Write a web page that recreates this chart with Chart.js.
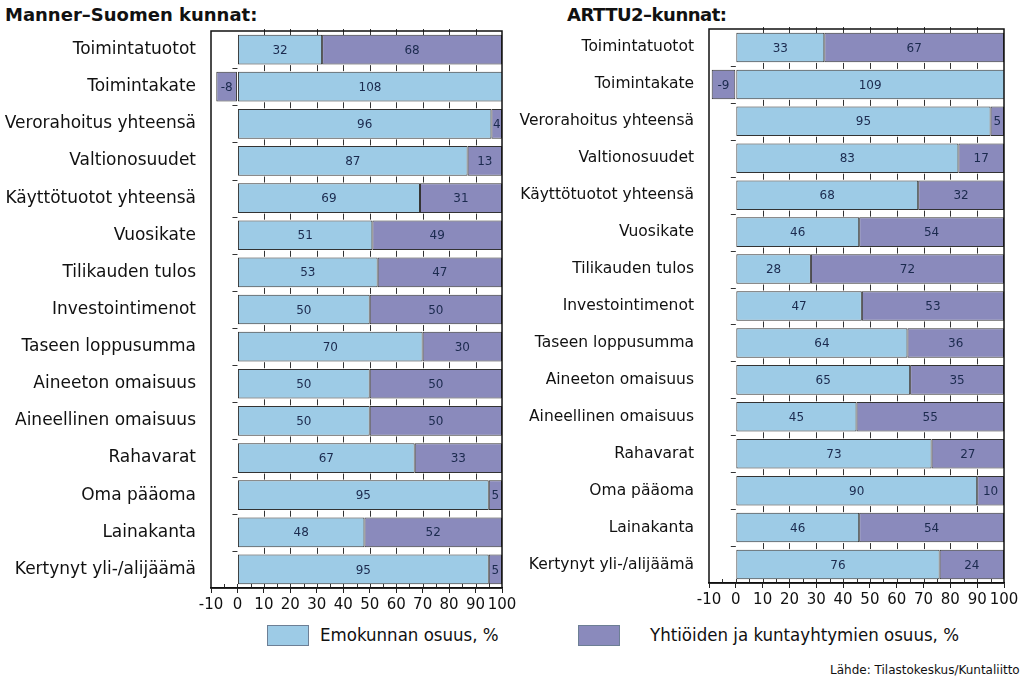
<!DOCTYPE html>
<html>
<head>
<meta charset="utf-8">
<script src="https://cdn.jsdelivr.net/npm/chart.js@4.4.0/dist/chart.umd.min.js"></script>
<style>
  body { margin: 0; width: 1024px; height: 687px; background: #fff; position: relative; overflow: hidden; font-family: "DejaVu Sans", Verdana, sans-serif; }
  .abs { position: absolute; }
  .title { font-weight: bold; font-size: 18px; color: #111; white-space: nowrap; }
  .lgbox { width: 40px; height: 19px; border: 1px solid #6d7f95; }
  .lgtext { font-family: "Liberation Sans Narrow", "DejaVu Sans Condensed", sans-serif; font-size: 18.5px; color: #111; white-space: nowrap; }
  .src { font-size: 12px; color: #111; white-space: nowrap; }
</style>
</head>
<body>
<div class="abs title" style="left:5px; top:4px;">Manner–Suomen kunnat:</div>
<div class="abs title" style="left:567px; top:4px; letter-spacing:-0.5px;">ARTTU2–kunnat:</div>

<div class="abs" style="left:0; top:0; width:520px; height:620px;"><canvas id="leftChart"></canvas></div>
<div class="abs" style="left:500px; top:0; width:524px; height:620px;"><canvas id="rightChart"></canvas></div>

<div class="abs lgbox" style="left:267px; top:625px; background:#9dcbe6;"></div>
<div class="abs lgtext" style="left:320px; top:624px;">Emokunnan osuus, %</div>
<div class="abs lgbox" style="left:578px; top:625px; background:#8a8abc;"></div>
<div class="abs lgtext" style="left:650px; top:624px;">Yhtiöiden ja kuntayhtymien osuus, %</div>
<div class="abs src" style="left:830px; top:663px;">Lähde: Tilastokeskus/Kuntaliitto</div>

<script>
// Data
const categories = [
    'Toimintatuotot', 'Toimintakate', 'Verorahoitus yhteensä', 'Valtionosuudet',
    'Käyttötuotot yhteensä', 'Vuosikate', 'Tilikauden tulos', 'Investointimenot',
    'Taseen loppusumma', 'Aineeton omaisuus', 'Aineellinen omaisuus', 'Rahavarat',
    'Oma pääoma', 'Lainakanta', 'Kertynyt yli-/alijäämä'
];
const emoManner = [32, 108, 96, 87, 69, 51, 53, 50, 70, 50, 50, 67, 95, 48, 95];
const yhtManner = [68, -8, 4, 13, 31, 49, 47, 50, 30, 50, 50, 33, 5, 52, 5];
const emoArttu = [33, 109, 95, 83, 68, 46, 28, 47, 64, 65, 45, 73, 90, 46, 76];
const yhtArttu = [67, -9, 5, 17, 32, 54, 72, 53, 36, 35, 55, 27, 10, 54, 24];
const xMin = -10, xMax = 100, xStep = 10;
const seriesNames = ['Emokunnan osuus, %', 'Yhtiöiden ja kuntayhtymien osuus, %'];

const BLUE = '#9dcbe6';
const PURPLE = '#8a8abc';

// frame + small tick dashes between the bars
const framePlugin = {
    id: 'frame',
    afterDatasetsDraw(chart) {
        const { ctx, chartArea: a, scales: { x, y } } = chart;
        ctx.save();
        ctx.strokeStyle = '#333';
        ctx.lineWidth = 1;
        const x0 = x.getPixelForValue(0);
        const n = chart.data.labels.length;
        for (let i = 0; i < n; i++) {
            const yb = i === 0 ? a.top + 1 : (y.getPixelForValue(i - 1) + y.getPixelForValue(i)) / 2;
            ctx.beginPath();
            for (let v = 10; v < xMax; v += xStep) {
                const px = Math.round(x.getPixelForValue(v)) + 0.5;
                ctx.moveTo(px, yb - 3);
                ctx.lineTo(px, yb + 3);
            }
            if (i > 0) {
                ctx.moveTo(x0 - 5, Math.round(yb) + 0.5);
                ctx.lineTo(x0, Math.round(yb) + 0.5);
            }
            ctx.stroke();
        }
        // minor ticks on the bottom axis
        ctx.beginPath();
        for (let v = xMin + 5; v < xMax; v += 5) {
            const px = Math.round(x.getPixelForValue(v)) + 0.5;
            ctx.moveTo(px, a.bottom);
            ctx.lineTo(px, a.bottom - 4);
        }
        ctx.stroke();
        ctx.strokeStyle = '#111';
        ctx.lineWidth = 1.5;
        ctx.strokeRect(a.left, a.top, a.right - a.left, a.bottom - a.top);
        ctx.restore();
    }
};

// value labels centred in the visible part of each segment
const valueLabels = {
    id: 'valueLabels',
    afterDatasetsDraw(chart) {
        const { ctx, chartArea: a } = chart;
        ctx.save();
        ctx.font = '12px "DejaVu Sans", Verdana, sans-serif';
        ctx.fillStyle = '#1b2a4e';
        ctx.textAlign = 'center';
        ctx.textBaseline = 'middle';
        chart.data.datasets.forEach((ds, di) => {
            chart.getDatasetMeta(di).data.forEach((el, i) => {
                const l = Math.max(Math.min(el.x, el.base), a.left);
                const r = Math.min(Math.max(el.x, el.base), a.right);
                ctx.fillText(String(ds.data[i]), (l + r) / 2, el.y + 1);
            });
        });
        ctx.restore();
    }
};

function makeChart(id, emo, yht, axisWidth, labelSize, padding) {
    new Chart(document.getElementById(id), {
        type: 'bar',
        data: {
            labels: categories,
            datasets: [
                { label: seriesNames[0], data: emo, backgroundColor: BLUE },
                { label: seriesNames[1], data: yht, backgroundColor: PURPLE }
            ].map(d => Object.assign(d, {
                borderColor: '#333',
                borderWidth: 1,
                borderSkipped: false,
                barPercentage: 0.8,
                categoryPercentage: 1
            }))
        },
        options: {
            indexAxis: 'y',
            responsive: true,
            maintainAspectRatio: false,
            animation: false,
            layout: { padding: padding },
            plugins: {
                legend: { display: false },
                tooltip: { enabled: false }
            },
            scales: {
                x: {
                    stacked: true,
                    min: xMin,
                    max: xMax,
                    ticks: {
                        stepSize: xStep,
                        autoSkip: false,
                        maxRotation: 0,
                        padding: 3,
                        color: '#111',
                        font: { family: '"DejaVu Sans", Verdana, sans-serif', size: 15 }
                    },
                    grid: { drawOnChartArea: false, tickLength: 5, color: '#222' },
                    border: { display: true, color: '#111', width: 1.5 }
                },
                y: {
                    stacked: true,
                    grid: { display: false, drawTicks: false },
                    border: { display: false },
                    ticks: {
                        padding: 15,
                        color: '#111',
                        font: { family: '"DejaVu Sans", Verdana, sans-serif', size: labelSize }
                    },
                    afterFit(scale) { scale.width = axisWidth; }
                }
            }
        },
        plugins: [framePlugin, valueLabels]
    });
}

makeChart('leftChart', emoManner, yhtManner, 211, 17, { top: 31, right: 18, bottom: 3, left: 0 });
makeChart('rightChart', emoArttu, yhtArttu, 209, 15.5, { top: 29, right: 20, bottom: 8, left: 0 });
</script>
</body>
</html>
